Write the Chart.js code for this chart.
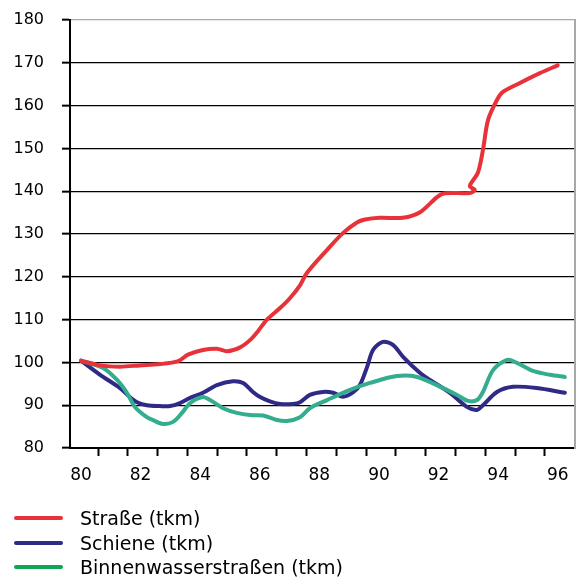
<!DOCTYPE html>
<html>
<head>
<meta charset="utf-8">
<script src="https://cdn.jsdelivr.net/npm/chart.js@4/dist/chart.umd.min.js"></script>
<style>
  html, body { margin: 0; padding: 0; background: #fff; }
  #wrap { position: relative; width: 578px; height: 583px; }
  #c { display: block; }
  #legend { position: absolute; left: 14px; top: 506px; font-family: "DejaVu Sans", sans-serif; font-size: 19px; color: #000; }
  .item { display: flex; align-items: center; height: 24.5px; white-space: nowrap; }
  .swatch { width: 49px; height: 4px; border-radius: 2px; margin-right: 17px; }
</style>
</head>
<body>
<div id="wrap">
  <canvas id="c" width="578" height="583"></canvas>
  <div id="legend"></div>
</div>
<script>
// Güterverkehrsleistung, Index 1980 = 100

// Straße
const strasseYears = [80.0, 80.64, 81.31, 81.98, 82.65, 83.26, 83.59, 84.09, 84.56, 84.9, 85.34, 85.67, 85.94, 86.24, 86.68, 87.01, 87.35, 87.58, 88.26, 88.79, 89.26, 89.53, 90.03, 90.8, 91.38, 91.95, 92.21, 93.05, 93.22, 93.05, 93.32, 93.49, 93.66, 93.96, 94.16, 94.73, 95.4, 96.0];
const strasseValues = [100.4, 99.3, 99.0, 99.3, 99.6, 100.3, 101.8, 102.9, 103.2, 102.6, 103.5, 105.2, 107.3, 110.0, 112.7, 115.0, 118.0, 120.9, 126.3, 130.2, 132.7, 133.4, 133.8, 133.8, 135.1, 138.6, 139.5, 139.6, 140.3, 141.2, 144.3, 149.6, 156.6, 161.3, 163.2, 165.3, 167.6, 169.4];

// Schiene
const schieneYears = [80.0, 80.64, 81.31, 81.64, 81.88, 82.21, 82.65, 82.99, 83.32, 83.66, 84.09, 84.56, 85.1, 85.44, 85.77, 86.01, 86.34, 86.68, 87.11, 87.35, 87.68, 88.12, 88.46, 88.79, 89.13, 89.36, 89.6, 89.8, 90.13, 90.47, 90.81, 91.38, 91.71, 92.38, 92.95, 93.29, 93.49, 93.96, 94.5, 95.3, 96.24];
const schieneValues = [100.4, 97.1, 94.0, 91.9, 90.7, 90.0, 89.8, 89.8, 90.5, 91.7, 92.9, 94.7, 95.6, 95.2, 93.1, 91.9, 90.9, 90.3, 90.3, 90.7, 92.4, 93.1, 92.9, 92.0, 93.0, 94.7, 98.9, 102.9, 104.8, 104.1, 101.3, 97.5, 95.9, 92.9, 89.6, 88.9, 90.0, 93.1, 94.3, 94.0, 92.9];

// Binnenwasserstraßen
const binnenYears = [80.0, 80.74, 81.21, 81.54, 81.81, 82.21, 82.42, 82.75, 83.09, 83.39, 83.66, 84.09, 84.33, 84.77, 85.23, 85.67, 86.11, 86.54, 86.91, 87.35, 87.68, 88.26, 89.03, 89.7, 90.6, 91.28, 92.15, 92.62, 92.99, 93.29, 93.49, 93.83, 94.3, 94.63, 95.17, 95.74, 96.24];
const binnenValues = [100.4, 98.7, 95.9, 92.9, 89.6, 87.2, 86.5, 85.6, 86.1, 88.2, 90.5, 91.9, 91.2, 89.3, 88.2, 87.7, 87.6, 86.6, 86.3, 87.2, 89.3, 91.2, 93.6, 95.2, 96.8, 96.6, 94.0, 92.4, 91.0, 91.2, 93.1, 98.2, 100.6, 99.9, 98.0, 97.1, 96.6];

// Achsen
const xLabelValues = [80, 82, 84, 86, 88, 90, 92, 94, 96];
const xTickMarks = [80.57, 81.57, 82.57, 83.57, 84.57, 85.57, 86.57, 87.57, 88.57, 89.57, 90.57, 91.57, 92.57, 93.57, 94.57, 95.57];
const yMin = 80, yMax = 180, yStep = 10;

const seriesLabels = ['Straße (tkm)', 'Schiene (tkm)', 'Binnenwasserstraßen (tkm)'];
const lineColors = ['#e8323a', '#2f2a86', '#33ad8e'];
const legendColors = ['#e8323a', '#2f2a86', '#0ea653'];

const toPoints = (xs, ys) => xs.map((x, i) => ({ x: x, y: ys[i] }));

const baseFont = { family: '"DejaVu Sans", sans-serif' };

function lineDataset(label, xs, ys, color, order) {
  return {
    label: label,
    data: toPoints(xs, ys),
    borderColor: color,
    backgroundColor: color,
    borderWidth: 4,
    pointRadius: 0,
    pointHoverRadius: 0,
    tension: 0.3,
    borderCapStyle: 'round',
    borderJoinStyle: 'round',
    fill: false,
    order: order
  };
}

// fixed axis boxes so the plot area sits at left 70 / top 20 / bottom 448
function fixBox(size, key) {
  return (scale) => {
    scale[key] = size;
    scale.paddingTop = 0;
    scale.paddingBottom = 0;
    scale.paddingLeft = 0;
    scale.paddingRight = 0;
  };
}

const chart = new Chart(document.getElementById('c'), {
  type: 'line',
  data: {
    datasets: [
      lineDataset(seriesLabels[0], strasseYears, strasseValues, lineColors[0], 1),
      lineDataset(seriesLabels[1], schieneYears, schieneValues, lineColors[1], 3),
      lineDataset(seriesLabels[2], binnenYears, binnenValues, lineColors[2], 2)
    ]
  },
  options: {
    responsive: false,
    animation: false,
    events: [],
    layout: { padding: { top: 20, right: 3, left: 0, bottom: 0 } },
    plugins: {
      legend: { display: false },
      tooltip: { enabled: false }
    },
    scales: {
      x: {
        type: 'linear',
        position: 'bottom',
        min: 79.63,
        max: 96.58,
        afterBuildTicks: (scale) => {
          const vals = xLabelValues.concat(xTickMarks).sort((a, b) => a - b);
          scale.ticks = vals.map(v => ({ value: v }));
        },
        afterFit: fixBox(135, 'height'),
        ticks: {
          autoSkip: false,
          maxRotation: 0,
          minRotation: 0,
          padding: 9,
          color: '#000',
          font: Object.assign({ size: 17 }, baseFont),
          callback: (value) => xLabelValues.includes(value) ? String(value) : ''
        },
        grid: {
          drawOnChartArea: false,
          drawTicks: true,
          tickLength: 8,
          tickWidth: 2,
          tickColor: (ctx) => (ctx.tick && xLabelValues.includes(ctx.tick.value)) ? 'rgba(0,0,0,0)' : '#000'
        },
        border: { display: true, color: '#000', width: 2 }
      },
      y: {
        type: 'linear',
        position: 'left',
        min: yMin,
        max: yMax,
        afterFit: fixBox(70, 'width'),
        ticks: {
          stepSize: yStep,
          padding: 18,
          color: '#000',
          font: Object.assign({ size: 16 }, baseFont)
        },
        grid: {
          drawOnChartArea: true,
          drawTicks: true,
          tickLength: 8,
          lineWidth: 1.3,
          tickWidth: 2,
          tickColor: '#000',
          color: (ctx) => (ctx.tick && ctx.tick.value === yMax) ? '#a8a8a8' : '#000'
        },
        border: { display: true, color: '#000', width: 2 }
      },
      yRight: {
        type: 'linear',
        position: 'right',
        min: yMin,
        max: yMax,
        afterFit: fixBox(0, 'width'),
        ticks: { display: false },
        grid: { drawOnChartArea: false, drawTicks: false },
        border: { display: true, color: '#a8a8a8', width: 2 }
      }
    }
  }
});

// Legende
const legendEl = document.getElementById('legend');
seriesLabels.forEach((label, i) => {
  const item = document.createElement('div');
  item.className = 'item';
  const sw = document.createElement('span');
  sw.className = 'swatch';
  sw.style.background = legendColors[i];
  const txt = document.createElement('span');
  txt.textContent = label;
  item.appendChild(sw);
  item.appendChild(txt);
  legendEl.appendChild(item);
});
</script>
</body>
</html>
